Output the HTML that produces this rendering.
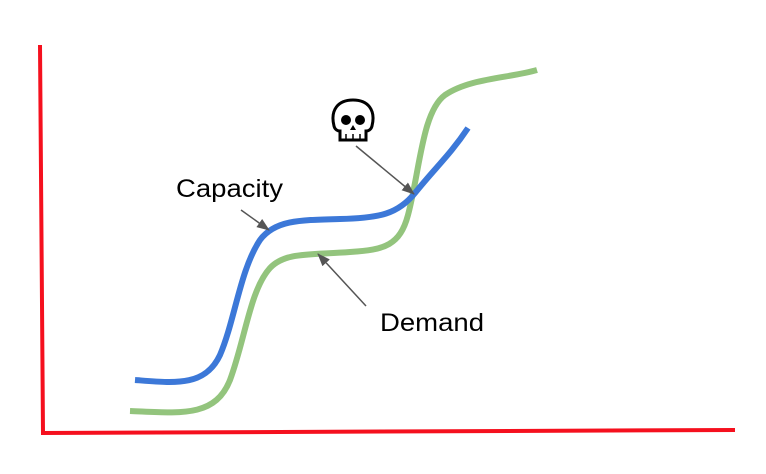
<!DOCTYPE html>
<html><head><meta charset="utf-8"><style>
html,body{margin:0;padding:0;background:#fff;}
svg{display:block;}
</style></head><body>
<svg width="766" height="474" viewBox="0 0 766 474" xmlns="http://www.w3.org/2000/svg">
<defs>
<marker id="ah" markerWidth="13" markerHeight="10" refX="12" refY="5" orient="auto" markerUnits="userSpaceOnUse">
<path d="M0,0 L13,5 L0,10 Z" fill="#555"/>
</marker>
</defs>
<path d="M40,45 L43,433 L735,430" fill="none" stroke="#f5101e" stroke-width="4"/>
<path d="M130,411 C180,413 215,418 230,380 C245,340 250,290 270,268 C285,252 310,255 350,252 C385,250 400,245 408,215 C420,170 422,112 445,95 C470,78 510,78 537,70" fill="none" stroke="#93c47d" stroke-width="6"/>
<path d="M135,380 C175,383 205,387 220,355 C235,320 240,270 260,240 C275,220 300,220 340,219 C380,218 398,214 415,193 C435,168 450,155 468,128" fill="none" stroke="#3c78d8" stroke-width="6"/>
<line x1="241" y1="210" x2="269" y2="230" stroke="#555" stroke-width="1.5" marker-end="url(#ah)"/>
<line x1="366" y1="306" x2="318" y2="254" stroke="#555" stroke-width="1.5" marker-end="url(#ah)"/>
<line x1="356" y1="146" x2="414" y2="194" stroke="#555" stroke-width="1.5" marker-end="url(#ah)"/>
<text x="176" y="197" font-family="Liberation Sans, sans-serif" font-size="25" fill="#000" textLength="107" lengthAdjust="spacingAndGlyphs">Capacity</text>
<text x="380" y="331" font-family="Liberation Sans, sans-serif" font-size="25" fill="#000" textLength="104" lengthAdjust="spacingAndGlyphs">Demand</text>
<g>
<path d="M334,126 C330,110 338,100 353,100 C368,100 376,110 372,126 C371,130 368,131 366,131 L366,140 L340,140 L340,131 C338,131 335,130 334,126 Z" fill="#fff" stroke="#000" stroke-width="3"/>
<circle cx="346" cy="120" r="5" fill="#000"/>
<circle cx="360" cy="120" r="5" fill="#000"/>
<path d="M353,125 L350,130 L356,130 Z" fill="#000"/>
<line x1="346" y1="134" x2="346" y2="140" stroke="#000" stroke-width="1.5"/>
<line x1="353" y1="134" x2="353" y2="140" stroke="#000" stroke-width="1.5"/>
<line x1="360" y1="134" x2="360" y2="140" stroke="#000" stroke-width="1.5"/>
</g>
</svg>
</body></html>
